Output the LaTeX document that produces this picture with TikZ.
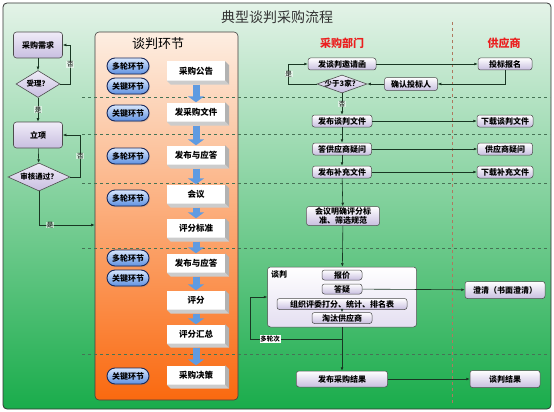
\documentclass[tikz,border=0pt]{standalone}
\usepackage{fontspec}
\setmainfont{Noto Sans CJK SC}
\usetikzlibrary{shapes.geometric,arrows.meta,calc,shadows}
\definecolor{frmT}{RGB}{228,243,232}
\definecolor{frmB}{RGB}{25,172,75}
\definecolor{orT}{RGB}{253,238,226}
\definecolor{orM}{RGB}{251,170,110}
\definecolor{orB}{RGB}{250,105,15}
\definecolor{lavT}{RGB}{240,236,248}
\definecolor{lavB}{RGB}{200,190,224}
\definecolor{pillT}{RGB}{215,230,252}
\definecolor{pillB}{RGB}{95,145,225}
\definecolor{pillD}{RGB}{25,40,90}
\definecolor{blueA}{RGB}{95,155,225}
\definecolor{lineC}{RGB}{25,55,35}
\definecolor{dashG}{RGB}{70,115,85}
\definecolor{dashR}{RGB}{175,120,95}
\definecolor{redH}{RGB}{235,30,30}
\begin{document}
\begin{tikzpicture}[x=1pt,y=-1pt,
  every node/.style={inner sep=1pt},
  arr/.style={draw=lineC, line width=0.6pt, -{Latex[length=3.5pt,width=2.8pt]}},
  lab/.style={font=\fontsize{6.5}{7}\selectfont, fill=white, fill opacity=0.55, text opacity=1, inner sep=0.6pt},
  lbox/.style={draw=gray!60!black, line width=0.6pt, rounded corners=3pt, top color=lavT, bottom color=lavB, minimum width=49pt, minimum height=26pt, font=\bfseries\fontsize{8}{9}\selectfont},
  dia/.style={diamond, draw=gray!60!black, line width=0.6pt, top color=lavT, bottom color=lavB, inner sep=0pt},
  dtext/.style={font=\bfseries\fontsize{7.5}{8}\selectfont, inner sep=0pt},
  pill/.style={draw=pillD, line width=0.9pt, rounded corners=8pt, top color=pillT, bottom color=pillB, minimum width=42pt, minimum height=16pt, inner sep=0pt, font=\bfseries\fontsize{8}{9}\selectfont, drop shadow={opacity=0.3, shadow xshift=1pt, shadow yshift=-1pt}},
  wbox/.style={fill=white, minimum width=58pt, minimum height=19pt, inner sep=0pt, font=\bfseries\fontsize{8.5}{9}\selectfont},
  rbox/.style={draw=gray!60!black, line width=0.5pt, rounded corners=2.5pt, top color=white, bottom color=lavB, minimum height=12pt, inner sep=1pt, font=\bfseries\fontsize{8}{9}\selectfont},
  barrow/.style={draw=blueA, line width=7pt, -{Triangle[length=6pt,width=16pt]}},
  dsh/.style={draw=dashG, dashed, line width=0.6pt},
]
\useasboundingbox (0,0) rectangle (554,412);
% frame
\shade[top color=frmT, bottom color=frmB, draw=gray!40!black, line width=0.8pt, rounded corners=4pt] (3,3) rectangle (551,409);
\node[font=\fontsize{14}{16}\selectfont, text=black!80] (title) at (277,17) {典型谈判采购流程};
% orange panel
\node[draw=gray!50!black, line width=0.6pt, rounded corners=4pt, top color=orT, middle color=orM, bottom color=orB, minimum width=143pt, minimum height=368pt] (pan) at (166.5,216) {};
\node[font=\fontsize{13}{15}\selectfont] (ptit) at (158,44) {谈判环节};
% dashed lines
\foreach \yy in {97,134,183,248,354} { \draw[dsh] (82,\yy) -- (550,\yy); }
\draw[draw=dashR, dashed, line width=0.6pt] (452,22) -- (452,405);
% headers
\node[font=\bfseries\fontsize{11}{12}\selectfont, text=redH] (h1) at (342,43) {采购部门};
\node[font=\bfseries\fontsize{11}{12}\selectfont, text=redH] (h2) at (504,43) {供应商};
% left column
\node[lbox] (xq) at (38,45) {采购需求};
\node[dia, minimum width=44pt, minimum height=27pt, label={[dtext]center:受理？}] (sl) at (38,84) {};
\node[lbox] (lx) at (38,135) {立项};
\node[dia, minimum width=62pt, minimum height=28pt, label={[dtext]center:审核通过？}] (sh) at (39,177) {};
\draw[arr] (xq) -- (sl);
\draw[arr] (sl.east) -- ++(10,0) |- node[lab,pos=0.25]{否} (xq.east);
\draw[arr] (sl) -- node[lab]{是} (lx);
\draw[arr] (lx) -- (sh);
\draw[arr] (sh.east) -- ++(10,0) |- node[lab,pos=0.25]{否} (lx.east);
\draw[arr] (sh.south) |- node[lab,pos=0.6]{是} ($(pan.west)+(0,9)$);
% pills
\node[pill] (p1) at (128,66) {多轮环节};
\node[pill] (p2) at (128,86) {关键环节};
\node[pill] (p3) at (128,113) {关键环节};
\node[pill] (p4) at (128,156) {多轮环节};
\node[pill] (p5) at (128,198) {多轮环节};
\node[pill] (p6) at (128,258) {多轮环节};
\node[pill] (p7) at (128,278) {关键环节};
\node[pill] (p8) at (128,376) {关键环节};
% white 3D boxes
\node[wbox] (c1) at (196,71) {采购公告};
\node[wbox] (c2) at (196,112) {发采购文件};
\node[wbox] (c3) at (196,155) {发布与应答};
\node[wbox] (c4) at (196,194) {会议};
\node[wbox] (c5) at (196,228) {评分标准};
\node[wbox] (c6) at (196,263) {发布与应答};
\node[wbox] (c7) at (196,300) {评分};
\node[wbox] (c8) at (196,334) {评分汇总};
\node[wbox] (c9) at (196,375) {采购决策};
\foreach \n in {c1,c2,c3,c4,c5,c6,c7,c8,c9} {
  \fill[gray!60] (\n.north east) -- ++(4,4) -- ($(\n.south east)+(4,4)$) -- (\n.south east) -- cycle;
  \fill[gray!40] (\n.south west) -- ++(4,4) -- ($(\n.south east)+(4,4)$) -- (\n.south east) -- cycle;
}
\foreach \a/\b in {c1/c2,c2/c3,c3/c4,c4/c5,c5/c6,c6/c7,c7/c8,c8/c9} {
  \draw[barrow] ($(\a.south)+(0,4)$) -- (\b.north);
}
% right part
\node[rbox, minimum width=68pt] (yq) at (342,64) {发谈判邀请函};
\node[rbox, minimum width=54pt] (bm) at (505,64) {投标报名};
\node[rbox, minimum width=53pt, minimum height=13pt] (qr) at (411,84) {确认投标人};
\node[dia, minimum width=50pt, minimum height=18pt, label={[dtext]center:少于3家？}] (sy) at (342,84) {};
\node[rbox, minimum width=60pt] (fb) at (342,121) {发布谈判文件};
\node[rbox, minimum width=56pt] (xz) at (505,121) {下载谈判文件};
\node[rbox, minimum width=59pt] (dy) at (342,149) {答供应商疑问};
\node[rbox, minimum width=55pt] (gy) at (505,149) {供应商疑问};
\node[rbox, minimum width=59pt] (bc) at (342,172) {发布补充文件};
\node[rbox, minimum width=56pt] (xb) at (505,172) {下载补充文件};
\node[rbox, minimum width=73pt, minimum height=19pt, align=center, font=\bfseries\fontsize{8}{8.5}\selectfont] (hy) at (343,216) {会议明确评分标\\准、筛选规范};
\node[draw=gray!60!black, line width=0.5pt, rounded corners=3pt, top color=white, bottom color=lavT!70!lavB, minimum width=149pt, minimum height=60pt] (tp) at (342,297) {};
\node[font=\bfseries\fontsize{8}{9}\selectfont, anchor=west] (tpl) at (270,274) {谈判};
\node[rbox, minimum width=40pt, minimum height=10pt] (bj) at (342,275) {报价};
\node[rbox, minimum width=40pt, minimum height=10pt] (dq) at (342,289) {答疑};
\node[rbox, minimum width=130pt, minimum height=11pt] (zz) at (342,304) {组织评委打分、统计、排名表};
\node[rbox, minimum width=60pt, minimum height=11pt] (tt) at (342,318) {淘汰供应商};
\node[rbox, minimum width=80pt, minimum height=17pt] (cq) at (505,290) {澄清（书面澄清）};
\node[rbox, minimum width=91pt, minimum height=16pt] (jg) at (342,379) {发布采购结果};
\node[rbox, minimum width=70pt, minimum height=17pt] (tj) at (505,379) {谈判结果};
% right connectors
\draw[arr] (yq) -- (bm);
\draw[arr] (bm.south) |- (qr.east);
\draw[arr] (qr) -- (sy);
\draw[arr] (sy.west) -- ++(-28,0) |- node[lab,pos=0.25]{是} (yq.west);
\draw[arr] (sy) -- node[lab]{否} (fb);
\draw[arr] (fb) -- (xz);
\draw[arr] (dy) -- (gy);
\draw[arr] (bc) -- (xb);
\draw[arr] (fb) -- (dy);
\draw[arr] (dy) -- (bc);
\draw[arr] (bc) -- (hy);
\draw[arr] (hy) -- (tp);
\draw[arr] (zz) -- (tt);
\draw[arr] (dq) -- (cq);
\draw[arr] (tp) -- (jg);
\coordinate (br) at (342,339);
\draw[arr] (br) -- node[lab, pos=0.78, fill opacity=1, font=\bfseries\fontsize{6.5}{7}\selectfont]{多轮次} ++(-92,0) |- (tp.west);
\draw[arr] (jg) -- (tj);
\end{tikzpicture}
\end{document}
